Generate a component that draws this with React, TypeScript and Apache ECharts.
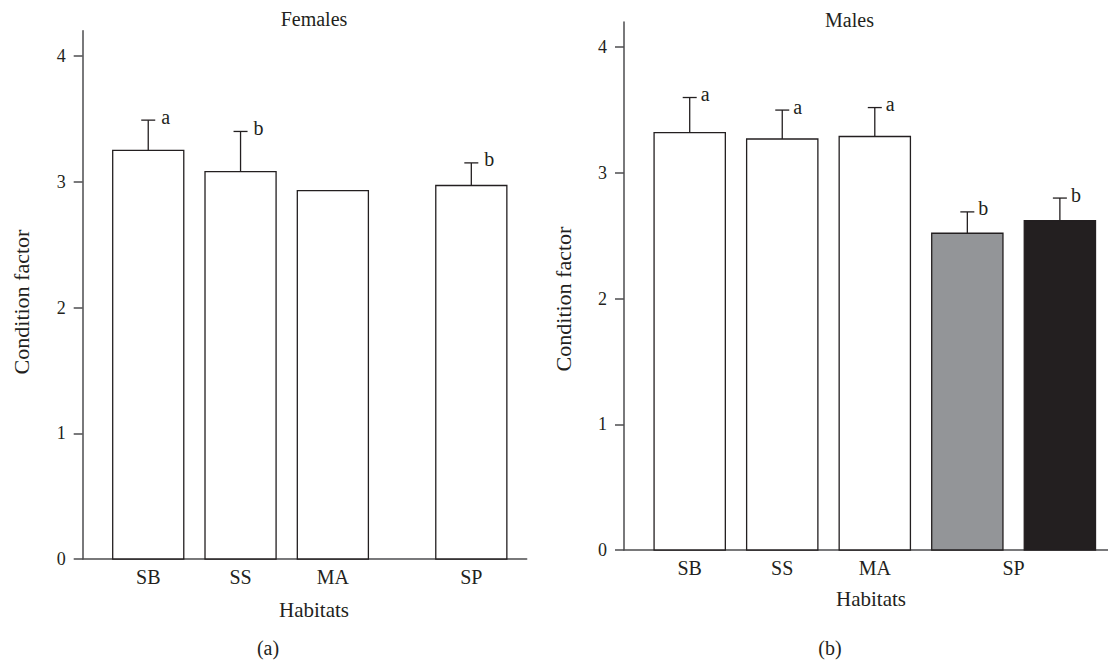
import React, { useEffect, useRef } from "react";
import * as echarts from "echarts";

// ---- data ----
const femaleCats = ["SB", "SS", "MA", "SP"];
const femaleSlots = [1, 2, 3, 4.5];
const femaleMeans = [3.25, 3.08, 2.93, 2.97];
const femaleErrs = [0.24, 0.32, 0, 0.18];
const femaleLetters = ["a", "b", "", "b"];

const maleCats = ["SB", "SS", "MA", "SP", "SP"];
const maleSlots = [1, 2, 3, 4, 5];
const maleMeans = [3.32, 3.27, 3.29, 2.52, 2.62];
const maleErrs = [0.28, 0.23, 0.23, 0.17, 0.18];
const maleLetters = ["a", "a", "a", "b", "b"];

const maleLabelCats = ["SB", "SS", "MA", "SP"];
const maleLabelSlots = [1, 2, 3, 4.5];

const yTicks = [0, 1, 2, 3, 4];

const INK = "#231f20";
const AXIS = "#4d4d4f";
const FONT = "'Liberation Serif', 'Times New Roman', serif";
const femaleFills = ["#ffffff", "#ffffff", "#ffffff", "#ffffff"];
const maleFills = ["#ffffff", "#ffffff", "#ffffff", "#939598", INK];

function makeRender(fills: string[], letters: string[], letterGap: number) {
  return (params: any, api: any) => {
    const x = api.value(0);
    const v = api.value(1);
    const e = api.value(2);
    const idx = params.dataIndex;
    const letter = letters[idx];
    const base = api.coord([x, 0]);
    const top = api.coord([x, v]);
    const w = api.size([0.77, 0])[0];
    const children: any[] = [
      {
        type: "rect",
        shape: { x: base[0] - w / 2, y: top[1], width: w, height: base[1] - top[1] },
        style: { fill: fills[idx], stroke: INK, lineWidth: 1.3 },
      },
    ];
    if (e > 0) {
      const et = api.coord([x, v + e]);
      children.push({
        type: "line",
        shape: { x1: top[0], y1: top[1], x2: top[0], y2: et[1] },
        style: { stroke: INK, lineWidth: 1.3 },
      });
      children.push({
        type: "line",
        shape: { x1: top[0] - 7, y1: et[1], x2: top[0] + 7, y2: et[1] },
        style: { stroke: INK, lineWidth: 1.3 },
      });
      if (letter) {
        children.push({
          type: "text",
          x: top[0] + 7 + letterGap,
          y: et[1] - 3.5,
          style: {
            text: letter,
            fill: INK,
            font: `20px ${FONT}`,
            align: "left",
            verticalAlign: "middle",
          },
        });
      }
    }
    return { type: "group", children };
  };
}

function yAxisCfg(gridIndex: number) {
  return {
    type: "value",
    gridIndex,
    min: 0,
    max: 4.2,
    interval: 1,
    axisLine: { show: true, lineStyle: { color: AXIS, width: 1.5 } },
    axisTick: { show: true, length: 9, customValues: yTicks, lineStyle: { color: AXIS, width: 1.5 } },
    axisLabel: {
      customValues: yTicks,
      margin: 17,
      color: INK,
      fontSize: 18,
      fontFamily: FONT,
      formatter: (val: number) => (Number.isInteger(val) ? String(val) : ""),
    },
    splitLine: { show: false },
  };
}

function xAxisCfg(gridIndex: number, min: number, max: number, slots: number[], cats: string[]) {
  return {
    type: "value",
    gridIndex,
    min,
    max,
    axisLine: { show: true, onZero: true, lineStyle: { color: AXIS, width: 1.5 } },
    axisTick: { show: false },
    axisLabel: {
      customValues: slots,
      margin: 8,
      color: INK,
      fontSize: 20,
      fontFamily: FONT,
      formatter: (val: number) => {
        const i = slots.findIndex((s) => Math.abs(s - val) < 1e-6);
        return i >= 0 ? cats[i] : "";
      },
    },
    splitLine: { show: false },
  };
}

function txt(x: number, y: number, text: string, size: number, rotation = 0) {
  return {
    type: "text",
    x,
    y,
    rotation,
    style: { text, fill: INK, font: `${size}px ${FONT}`, align: "center", verticalAlign: "middle" },
  };
}

export default function App() {
  const ref = useRef<HTMLDivElement>(null);
  useEffect(() => {
    if (!ref.current) return;
    const chart = echarts.init(ref.current, null, { renderer: "svg" });
    const femaleData = femaleCats.map((c, i) => [femaleSlots[i], femaleMeans[i], femaleErrs[i]]);
    const maleData = maleCats.map((c, i) => [maleSlots[i], maleMeans[i], maleErrs[i]]);
    chart.setOption({
      animation: false,
      backgroundColor: "#ffffff",
      grid: [
        { left: 82.7, top: 30.85, width: 444, height: 528.15 },
        { left: 624, top: 22.1, width: 484, height: 527.9 },
      ],
      xAxis: [
        xAxisCfg(0, 0.29, 5.1, femaleSlots, femaleCats),
        xAxisCfg(1, 0.29, 5.52, maleLabelSlots, maleLabelCats),
      ],
      yAxis: [yAxisCfg(0), yAxisCfg(1)],
      series: [
        {
          type: "custom",
          xAxisIndex: 0,
          yAxisIndex: 0,
          renderItem: makeRender(femaleFills, femaleLetters, 6),
          data: femaleData,
          encode: { x: 0, y: [1, 2] },
          clip: false,
        },
        {
          type: "custom",
          xAxisIndex: 1,
          yAxisIndex: 1,
          renderItem: makeRender(maleFills, maleLetters, 4),
          data: maleData,
          encode: { x: 0, y: [1, 2] },
          clip: false,
        },
      ],
      graphic: [
        txt(314, 19, "Females", 20),
        txt(849.5, 20, "Males", 20),
        txt(21, 302, "Condition factor", 22, Math.PI / 2),
        txt(563, 299, "Condition factor", 22, Math.PI / 2),
        txt(314, 610, "Habitats", 21),
        txt(871, 599, "Habitats", 21),
        txt(268, 648, "(a)", 20),
        txt(830, 648, "(b)", 20),
      ],
    });
    return () => chart.dispose();
  }, []);
  return (
    <div
      ref={ref}
      style={{ position: "fixed", left: 0, top: 0, width: 1108, height: 660, background: "#fff" }}
    />
  );
}
